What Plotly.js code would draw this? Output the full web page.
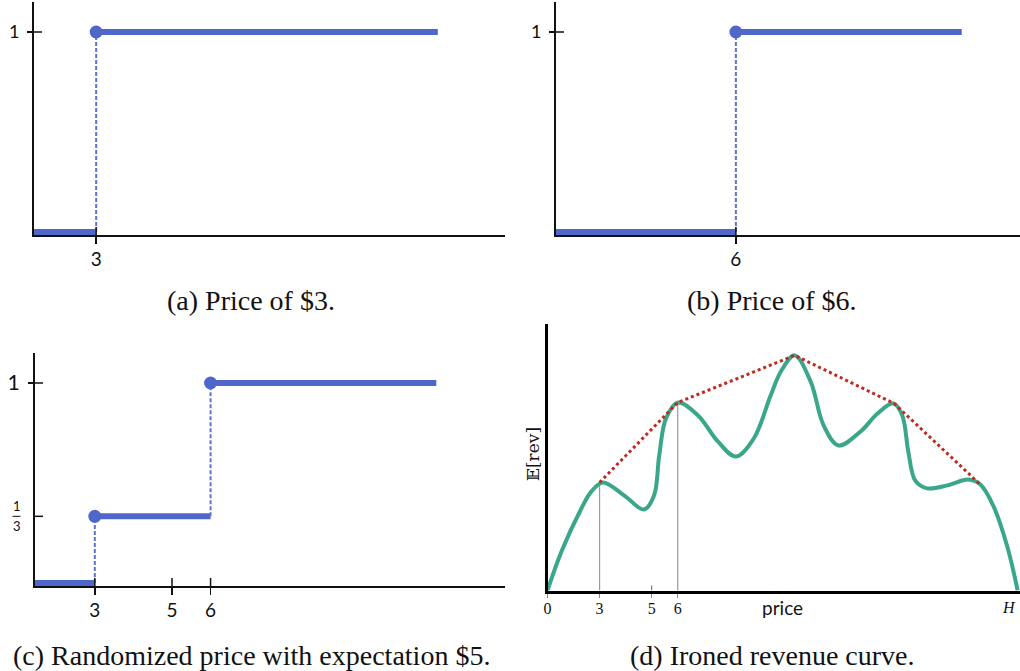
<!DOCTYPE html>
<html>
<head>
<meta charset="utf-8">
<script src="https://cdn.plot.ly/plotly-3.0.1.min.js"></script>
<style>html,body{margin:0;padding:0;background:#fff;}#chart{width:1020px;height:671px;}</style>
</head>
<body>
<div id="chart"></div>
<script>
// ---- Panels (a)-(c): probability of purchase vs. value (step functions) ----
const priceA = [3];
const probA = [1];
const priceB = [6];
const probB = [1];
const priceC = [3, 6];
const probC = [1 / 3, 1];
const expectC = 5;
const stepEnd = 11.85;          // where the drawn steps stop

// ---- Panel (d): expected revenue curve and its ironing ----
const revX = [1.00, 1.54, 2.30, 2.68, 3.13, 3.95, 4.71, 5.09, 5.29, 5.55, 6.01, 6.78, 7.54, 8.23, 8.92,
              9.57, 9.96, 10.49, 11.10, 11.60, 12.17, 13.02, 13.67, 14.28, 14.62, 14.85, 15.12, 15.58,
              16.35, 17.15, 17.61, 18.11, 18.64, 19.05];
const revY = [0.00, 1.46, 3.06, 3.69, 4.03, 3.54, 3.02, 3.54, 5.04, 6.42, 7.01, 6.53, 5.56, 5.00, 5.67,
              7.28, 8.17, 8.77, 7.80, 6.16, 5.41, 5.93, 6.60, 6.98, 6.53, 5.19, 4.10, 3.81,
              3.92, 4.14, 3.96, 3.17, 1.68, 0.00];
const ironX = [3.0, 6.0, 10.49, 14.3, 17.61];
const ironY = [4.03, 7.01, 8.77, 6.98, 3.96];
const dTickVals = [1.0, 3, 5, 6];
const dTickText = ['0', '3', '5', '6'];
const maxPrice = 19.05;          // H
const guideX = [3, 6];

// ---- styles ----
const BLUE = '#4f67c9';
const BLUE_D = '#5c73d2';
const TEAL = '#3aa68a';
const RED = '#c0291d';
const W = 1020, H = 671;
const px = v => v / W;
const py = v => 1 - v / H;

const xr = {a: [1.39, 13.59], b: [1.34, 13.36], c: [1.45, 13.63]};
const yr = [-0.015, 1.15];

function stepTraces(prices, probs, xa, ya, x0) {
  const tr = [];
  let prev = 0, px0 = x0;
  prices.forEach((p, i) => {
    tr.push({x: [px0, p], y: [prev, prev], xaxis: xa, yaxis: ya, mode: 'lines',
             line: {color: BLUE, width: 6}, hoverinfo: 'skip'});
    tr.push({x: [p, p], y: [prev, probs[i]], xaxis: xa, yaxis: ya, mode: 'lines',
             line: {color: BLUE_D, width: 2, dash: '4px,2px'}, hoverinfo: 'skip'});
    prev = probs[i];
    px0 = p;
  });
  tr.push({x: [px0, stepEnd], y: [prev, prev], xaxis: xa, yaxis: ya, mode: 'lines',
           line: {color: BLUE, width: 6}, hoverinfo: 'skip'});
  tr.push({x: prices, y: probs, xaxis: xa, yaxis: ya, mode: 'markers',
           marker: {color: BLUE, size: 13}, hoverinfo: 'skip', cliponaxis: false});
  return tr;
}

const traces = [].concat(
  stepTraces(priceA, probA, 'x', 'y', xr.a[0]),
  stepTraces(priceB, probB, 'x2', 'y2', xr.b[0]),
  stepTraces(priceC, probC, 'x3', 'y3', xr.c[0])
);

// panel d
guideX.forEach(g => {
  const k = ironX.indexOf(g);
  traces.push({x: [g, g], y: [-0.25, ironY[k]], xaxis: 'x4', yaxis: 'y4', mode: 'lines',
               line: {color: '#9a9a9a', width: 1.2}, hoverinfo: 'skip'});
});
traces.push({x: revX, y: revY, xaxis: 'x4', yaxis: 'y4', mode: 'lines',
             line: {color: TEAL, width: 4, shape: 'spline', smoothing: 1}, hoverinfo: 'skip'});
traces.push({x: ironX, y: ironY, xaxis: 'x4', yaxis: 'y4', mode: 'lines',
             line: {color: RED, width: 3, dash: 'dot'}, hoverinfo: 'skip'});

const SANS = 'Lato, "Open Sans", sans-serif';
const tickFont = {family: SANS, size: 19, color: '#111'};
function baseX(dom, range, vals, txt, font) {
  return {domain: dom, range: range, showgrid: false, zeroline: false, showline: true,
          linecolor: '#111', linewidth: 2, tickmode: 'array', tickvals: vals, ticktext: txt,
          ticks: 'outside', ticklen: 7, tickwidth: 1.5, tickcolor: '#111', tickfont: font || tickFont,
          ticklabelstandoff: -1, fixedrange: true};
}
function baseY(dom, range, vals, txt, font) {
  return {domain: dom, range: range, showgrid: false, zeroline: false, showline: true,
          linecolor: '#111', linewidth: 2, tickmode: 'array', tickvals: vals, ticktext: txt,
          ticks: 'outside', ticklen: 5, tickwidth: 1.5, tickcolor: '#111', tickfont: font || tickFont,
          ticklabelstandoff: 4, fixedrange: true};
}

const layout = {
  width: W, height: H,
  margin: {l: 0, r: 0, t: 0, b: 0},
  paper_bgcolor: '#fff', plot_bgcolor: 'rgba(0,0,0,0)',
  showlegend: false,
  xaxis: Object.assign(baseX([px(34), px(505)], xr.a, priceA, priceA.map(String)), {anchor: 'y'}),
  yaxis: Object.assign(baseY([py(235), py(2)], yr, [1], ['1'], Object.assign({}, tickFont, {size: 18})), {anchor: 'x'}),
  xaxis2: Object.assign(baseX([px(556), 1], xr.b, priceB, priceB.map(String)), {anchor: 'y2'}),
  yaxis2: Object.assign(baseY([py(235), py(2)], yr, [1], ['1'], Object.assign({}, tickFont, {size: 18})), {anchor: 'x2'}),
  xaxis3: Object.assign(baseX([px(35), px(505)], xr.c, [priceC[0], expectC, priceC[1]],
                              [String(priceC[0]), String(expectC), String(priceC[1])]), {anchor: 'y3'}),
  yaxis3: Object.assign(baseY([py(586), py(353)], yr, [probC[1]], ['1'],
                              Object.assign({}, tickFont, {size: 21})), {anchor: 'x3'}),
  xaxis4: {domain: [px(547.5), 1], range: [1.0, 19.14], anchor: 'y4', showgrid: false, zeroline: false,
           showline: true, linecolor: '#000', linewidth: 3, tickmode: 'array', tickvals: dTickVals,
           ticktext: dTickText, ticks: 'outside', ticklen: 4, tickwidth: 1, tickcolor: '#888',
           ticklabelstandoff: -3,
           tickfont: {family: '"Liberation Serif", serif', size: 16, color: '#111'}, fixedrange: true},
  yaxis4: {domain: [py(590.5), py(324)], range: [0, 9.94], anchor: 'x4', showgrid: false, zeroline: false,
           showline: true, linecolor: '#000', linewidth: 3, showticklabels: false, ticks: '', fixedrange: true},
  shapes: [],
  annotations: []
};

const tickLine = {color: '#111', width: 1.5};
// inner halves of crossing ticks
[['x', 'y', xr.a, priceA], ['x2', 'y2', xr.b, priceB], ['x3', 'y3', xr.c, [priceC[0], expectC, priceC[1]]]]
  .forEach(([xa, ya, rng, vals]) => {
    vals.forEach(v => layout.shapes.push({type: 'line', xref: xa, yref: ya, x0: v, x1: v,
      ysizemode: 'pixel', yanchor: yr[0], y0: 0, y1: 8, line: tickLine}));
  });
[['x', 'y', xr.a, [1]], ['x2', 'y2', xr.b, [1]], ['x3', 'y3', xr.c, probC]].forEach(([xa, ya, rng, vals]) => {
  vals.forEach(v => layout.shapes.push({type: 'line', xref: xa, yref: ya, y0: v, y1: v,
    xsizemode: 'pixel', xanchor: rng[0], x0: -6, x1: 8, line: tickLine}));
});
// inner tick at the expectation in panel (d)
layout.shapes.push({type: 'line', xref: 'x4', yref: 'y4', x0: expectC, x1: expectC,
  ysizemode: 'pixel', yanchor: 0, y0: 0, y1: 5, line: {color: '#666', width: 1}});
// tick at H
layout.shapes.push({type: 'line', xref: 'x4', yref: 'y4', x0: maxPrice, x1: maxPrice,
  ysizemode: 'pixel', yanchor: 0, y0: -5, y1: 0, line: {color: '#888', width: 1}});
layout.annotations.push({xref: 'paper', yref: 'paper', x: 1, y: py(607), text: '<i>H</i>',
  showarrow: false, xanchor: 'right', xshift: -2, yanchor: 'middle',
  font: {family: '"Liberation Serif", serif', size: 16, color: '#111'}});

// 1/3 fraction label for panel (c)
const fracFont = {family: SANS, size: 13, color: '#111'};
layout.annotations.push({xref: 'paper', yref: 'y3', x: px(16.5), y: probC[0], yshift: 10, text: '1',
  showarrow: false, font: fracFont, xanchor: 'center', yanchor: 'middle'});
layout.annotations.push({xref: 'paper', yref: 'y3', x: px(16.5), y: probC[0], yshift: -10, text: '3',
  showarrow: false, font: fracFont, xanchor: 'center', yanchor: 'middle'});
layout.shapes.push({type: 'line', xref: 'paper', yref: 'y3', x0: px(12.5), x1: px(20.5), y0: probC[0], y1: probC[0],
  line: {color: '#111', width: 1}});

// panel (d) axis titles
layout.annotations.push({xref: 'paper', yref: 'paper', x: px(782), y: py(607), text: 'price', showarrow: false,
  xanchor: 'center', yanchor: 'middle', font: {family: SANS, size: 19, color: '#111'}});
layout.annotations.push({xref: 'paper', yref: 'paper', x: px(533), y: py(454), text: '𝔼[rev]', showarrow: false,
  xanchor: 'center', yanchor: 'middle', textangle: -90,
  font: {family: '"DejaVu Serif", serif', size: 17, color: '#111'}});

// captions
const capFont = {family: '"Liberation Serif", "DejaVu Serif", serif', size: 28, color: '#111'};
[['(a) Price of $3.', 251, 301], ['(b) Price of $6.', 772, 301],
 ['(c) Randomized price with expectation $5.', 251, 655], ['(d) Ironed revenue curve.', 772, 655]]
  .forEach(([t, x, y]) => layout.annotations.push({xref: 'paper', yref: 'paper', x: px(x), y: py(y), text: t,
    showarrow: false, font: capFont, xanchor: 'center', yanchor: 'middle'}));

Plotly.newPlot('chart', traces, layout, {staticPlot: true, displayModeBar: false});
</script>
</body>
</html>
